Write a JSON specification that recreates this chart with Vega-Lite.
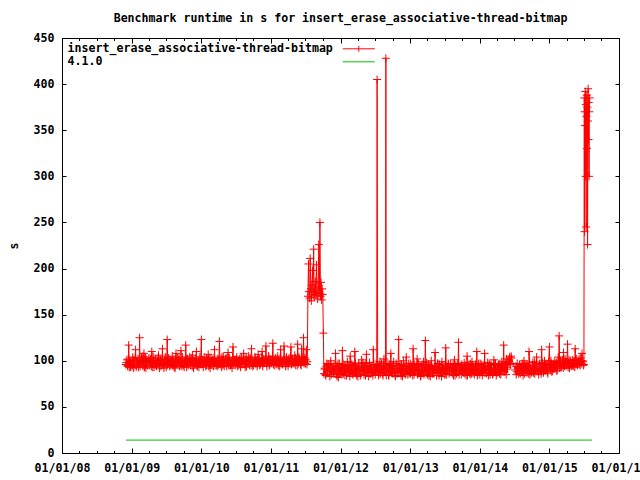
{
  "$schema": "https://vega.github.io/schema/vega-lite/v6.json",
  "width": 557,
  "height": 415,
  "autosize": {"type": "none"},
  "padding": {"left": 62, "top": 38, "right": 21, "bottom": 27},
  "background": "white",
  "config": {
    "view": {"stroke": "black", "strokeWidth": 1},
    "font": "DejaVu Sans Mono"
  },
  "title": {
    "text": "Benchmark runtime in s for insert_erase_associative-thread-bitmap",
    "font": "DejaVu Sans Mono",
    "fontWeight": "bold",
    "fontSize": 11.6,
    "color": "black",
    "anchor": "middle",
    "offset": 7
  },
  "datasets": {
    "bench": [
      {"d":"2008-12-01","v":96},{"d":"2008-12-06","v":101},{"d":"2008-12-11","v":94},{"d":"2008-12-16","v":117},{"d":"2008-12-21","v":99},{"d":"2008-12-26","v":93},
      {"d":"2009-01-01","v":97},{"d":"2009-01-06","v":104},{"d":"2009-01-11","v":92},{"d":"2009-01-16","v":99},{"d":"2009-01-21","v":112},{"d":"2009-01-26","v":95},
      {"d":"2009-02-01","v":100},{"d":"2009-02-06","v":93},{"d":"2009-02-11","v":125},{"d":"2009-02-16","v":98},{"d":"2009-02-21","v":103},{"d":"2009-02-26","v":96},
      {"d":"2009-03-01","v":94},{"d":"2009-03-06","v":108},{"d":"2009-03-11","v":99},{"d":"2009-03-16","v":92},{"d":"2009-03-21","v":101},{"d":"2009-03-26","v":97},
      {"d":"2009-04-01","v":103},{"d":"2009-04-06","v":95},{"d":"2009-04-11","v":98},{"d":"2009-04-16","v":110},{"d":"2009-04-21","v":93},{"d":"2009-04-26","v":100},
      {"d":"2009-05-01","v":96},{"d":"2009-05-06","v":102},{"d":"2009-05-11","v":94},{"d":"2009-05-16","v":99},{"d":"2009-05-21","v":106},{"d":"2009-05-26","v":92},
      {"d":"2009-06-01","v":101},{"d":"2009-06-06","v":97},{"d":"2009-06-11","v":113},{"d":"2009-06-16","v":95},{"d":"2009-06-21","v":99},{"d":"2009-06-26","v":104},
      {"d":"2009-07-01","v":93},{"d":"2009-07-06","v":123},{"d":"2009-07-11","v":98},{"d":"2009-07-16","v":101},{"d":"2009-07-21","v":95},{"d":"2009-07-26","v":100},
      {"d":"2009-08-01","v":105},{"d":"2009-08-06","v":94},{"d":"2009-08-11","v":99},{"d":"2009-08-16","v":92},{"d":"2009-08-21","v":108},{"d":"2009-08-26","v":97},
      {"d":"2009-09-01","v":99},{"d":"2009-09-06","v":103},{"d":"2009-09-11","v":95},{"d":"2009-09-16","v":111},{"d":"2009-09-21","v":94},{"d":"2009-09-26","v":101},
      {"d":"2009-10-01","v":96},{"d":"2009-10-06","v":100},{"d":"2009-10-11","v":117},{"d":"2009-10-16","v":93},{"d":"2009-10-21","v":102},{"d":"2009-10-26","v":98},
      {"d":"2009-11-01","v":104},{"d":"2009-11-06","v":95},{"d":"2009-11-11","v":99},{"d":"2009-11-16","v":106},{"d":"2009-11-21","v":92},{"d":"2009-11-26","v":100},
      {"d":"2009-12-01","v":97},{"d":"2009-12-06","v":110},{"d":"2009-12-11","v":94},{"d":"2009-12-16","v":101},{"d":"2009-12-21","v":99},{"d":"2009-12-26","v":96},
      {"d":"2010-01-01","v":123},{"d":"2010-01-06","v":98},{"d":"2010-01-11","v":93},{"d":"2010-01-16","v":104},{"d":"2010-01-21","v":100},{"d":"2010-01-26","v":95},
      {"d":"2010-02-01","v":99},{"d":"2010-02-06","v":107},{"d":"2010-02-11","v":96},{"d":"2010-02-16","v":92},{"d":"2010-02-21","v":103},{"d":"2010-02-26","v":98},
      {"d":"2010-03-01","v":101},{"d":"2010-03-06","v":94},{"d":"2010-03-11","v":112},{"d":"2010-03-16","v":99},{"d":"2010-03-21","v":95},{"d":"2010-03-26","v":102},
      {"d":"2010-04-01","v":96},{"d":"2010-04-06","v":121},{"d":"2010-04-11","v":98},{"d":"2010-04-16","v":93},{"d":"2010-04-21","v":100},{"d":"2010-04-26","v":105},
      {"d":"2010-05-01","v":94},{"d":"2010-05-06","v":99},{"d":"2010-05-11","v":103},{"d":"2010-05-16","v":97},{"d":"2010-05-21","v":109},{"d":"2010-05-26","v":95},
      {"d":"2010-06-01","v":100},{"d":"2010-06-06","v":96},{"d":"2010-06-11","v":92},{"d":"2010-06-16","v":115},{"d":"2010-06-21","v":98},{"d":"2010-06-26","v":101},
      {"d":"2010-07-01","v":97},{"d":"2010-07-06","v":104},{"d":"2010-07-11","v":99},{"d":"2010-07-16","v":95},{"d":"2010-07-21","v":102},{"d":"2010-07-26","v":93},
      {"d":"2010-08-01","v":103},{"d":"2010-08-06","v":98},{"d":"2010-08-11","v":108},{"d":"2010-08-16","v":96},{"d":"2010-08-21","v":100},{"d":"2010-08-26","v":94},
      {"d":"2010-09-01","v":99},{"d":"2010-09-06","v":105},{"d":"2010-09-11","v":95},{"d":"2010-09-16","v":101},{"d":"2010-09-21","v":113},{"d":"2010-09-26","v":97},
      {"d":"2010-10-01","v":95},{"d":"2010-10-06","v":100},{"d":"2010-10-11","v":103},{"d":"2010-10-16","v":98},{"d":"2010-10-21","v":94},{"d":"2010-10-26","v":107},
      {"d":"2010-11-01","v":102},{"d":"2010-11-06","v":96},{"d":"2010-11-11","v":99},{"d":"2010-11-16","v":110},{"d":"2010-11-21","v":97},{"d":"2010-11-26","v":101},
      {"d":"2010-12-01","v":98},{"d":"2010-12-06","v":116},{"d":"2010-12-11","v":94},{"d":"2010-12-16","v":100},{"d":"2010-12-21","v":104},{"d":"2010-12-26","v":96},
      {"d":"2011-01-01","v":101},{"d":"2011-01-06","v":97},{"d":"2011-01-11","v":119},{"d":"2011-01-16","v":99},{"d":"2011-01-21","v":95},{"d":"2011-01-26","v":103},
      {"d":"2011-02-01","v":96},{"d":"2011-02-06","v":105},{"d":"2011-02-11","v":100},{"d":"2011-02-16","v":94},{"d":"2011-02-21","v":112},{"d":"2011-02-26","v":98},
      {"d":"2011-03-01","v":100},{"d":"2011-03-06","v":97},{"d":"2011-03-11","v":116},{"d":"2011-03-16","v":102},{"d":"2011-03-21","v":96},{"d":"2011-03-26","v":99},
      {"d":"2011-04-01","v":94},{"d":"2011-04-06","v":103},{"d":"2011-04-11","v":98},{"d":"2011-04-16","v":115},{"d":"2011-04-21","v":100},{"d":"2011-04-26","v":97},
      {"d":"2011-05-01","v":99},{"d":"2011-05-06","v":106},{"d":"2011-05-11","v":95},{"d":"2011-05-16","v":101},{"d":"2011-05-21","v":118},{"d":"2011-05-26","v":97},
      {"d":"2011-06-01","v":102},{"d":"2011-06-06","v":96},{"d":"2011-06-11","v":113},{"d":"2011-06-16","v":99},{"d":"2011-06-21","v":125},{"d":"2011-06-26","v":101},
      {"d":"2011-07-01","v":97},{"d":"2011-07-06","v":112},{"d":"2011-07-11","v":99},
      {"d":"2011-07-14","v":170},{"d":"2011-07-17","v":205},{"d":"2011-07-20","v":175},{"d":"2011-07-23","v":168},{"d":"2011-07-26","v":211},{"d":"2011-07-29","v":178},
      {"d":"2011-08-01","v":165},{"d":"2011-08-04","v":182},{"d":"2011-08-07","v":198},{"d":"2011-08-10","v":172},{"d":"2011-08-13","v":221},{"d":"2011-08-16","v":169},
      {"d":"2011-08-19","v":176},{"d":"2011-08-22","v":186},{"d":"2011-08-25","v":171},{"d":"2011-08-28","v":204},{"d":"2011-08-31","v":174},{"d":"2011-09-03","v":167},
      {"d":"2011-09-06","v":180},{"d":"2011-09-09","v":226},{"d":"2011-09-12","v":173},{"d":"2011-09-15","v":250},{"d":"2011-09-18","v":170},{"d":"2011-09-21","v":185},
      {"d":"2011-09-24","v":166},{"d":"2011-09-27","v":178},{"d":"2011-09-30","v":172},{"d":"2011-10-03","v":130},
      {"d":"2011-10-06","v":86},{"d":"2011-10-11","v":92},{"d":"2011-10-16","v":84},{"d":"2011-10-21","v":97},{"d":"2011-10-26","v":89},
      {"d":"2011-11-01","v":95},{"d":"2011-11-06","v":83},{"d":"2011-11-11","v":100},{"d":"2011-11-16","v":88},{"d":"2011-11-21","v":93},{"d":"2011-11-26","v":86},
      {"d":"2011-12-01","v":91},{"d":"2011-12-06","v":108},{"d":"2011-12-11","v":85},{"d":"2011-12-16","v":94},{"d":"2011-12-21","v":82},{"d":"2011-12-26","v":97},
      {"d":"2012-01-01","v":88},{"d":"2012-01-06","v":93},{"d":"2012-01-11","v":111},{"d":"2012-01-16","v":86},{"d":"2012-01-21","v":95},{"d":"2012-01-26","v":90},
      {"d":"2012-02-01","v":84},{"d":"2012-02-06","v":99},{"d":"2012-02-11","v":89},{"d":"2012-02-16","v":92},{"d":"2012-02-21","v":105},{"d":"2012-02-26","v":87},
      {"d":"2012-03-01","v":96},{"d":"2012-03-06","v":85},{"d":"2012-03-11","v":91},{"d":"2012-03-16","v":110},{"d":"2012-03-21","v":88},{"d":"2012-03-26","v":94},
      {"d":"2012-04-01","v":83},{"d":"2012-04-06","v":97},{"d":"2012-04-11","v":90},{"d":"2012-04-16","v":86},{"d":"2012-04-21","v":101},{"d":"2012-04-26","v":92},
      {"d":"2012-05-01","v":89},{"d":"2012-05-06","v":95},{"d":"2012-05-11","v":84},{"d":"2012-05-16","v":107},{"d":"2012-05-21","v":91},{"d":"2012-05-26","v":87},
      {"d":"2012-06-01","v":98},{"d":"2012-06-06","v":86},{"d":"2012-06-11","v":93},{"d":"2012-06-16","v":88},{"d":"2012-06-21","v":112},{"d":"2012-06-26","v":90},
      {"d":"2012-07-01","v":85},{"d":"2012-07-06","v":96},{"d":"2012-07-11","v":405},{"d":"2012-07-16","v":91},{"d":"2012-07-21","v":87},{"d":"2012-07-26","v":99},
      {"d":"2012-08-01","v":89},{"d":"2012-08-06","v":94},{"d":"2012-08-11","v":84},{"d":"2012-08-16","v":102},{"d":"2012-08-21","v":90},{"d":"2012-08-26","v":428},
      {"d":"2012-09-01","v":88},{"d":"2012-09-06","v":97},{"d":"2012-09-11","v":85},{"d":"2012-09-16","v":93},{"d":"2012-09-21","v":108},{"d":"2012-09-26","v":91},
      {"d":"2012-10-01","v":86},{"d":"2012-10-06","v":99},{"d":"2012-10-11","v":90},{"d":"2012-10-16","v":84},{"d":"2012-10-21","v":95},{"d":"2012-10-26","v":88},
      {"d":"2012-11-01","v":123},{"d":"2012-11-06","v":92},{"d":"2012-11-11","v":87},{"d":"2012-11-16","v":96},{"d":"2012-11-21","v":83},{"d":"2012-11-26","v":100},
      {"d":"2012-12-01","v":90},{"d":"2012-12-06","v":85},{"d":"2012-12-11","v":104},{"d":"2012-12-16","v":89},{"d":"2012-12-21","v":94},{"d":"2012-12-26","v":86},
      {"d":"2013-01-01","v":97},{"d":"2013-01-06","v":88},{"d":"2013-01-11","v":91},{"d":"2013-01-16","v":113},{"d":"2013-01-21","v":85},{"d":"2013-01-26","v":93},
      {"d":"2013-02-01","v":89},{"d":"2013-02-06","v":102},{"d":"2013-02-11","v":86},{"d":"2013-02-16","v":95},{"d":"2013-02-21","v":90},{"d":"2013-02-26","v":84},
      {"d":"2013-03-01","v":94},{"d":"2013-03-06","v":87},{"d":"2013-03-11","v":99},{"d":"2013-03-16","v":91},{"d":"2013-03-21","v":122},{"d":"2013-03-26","v":88},
      {"d":"2013-04-01","v":85},{"d":"2013-04-06","v":96},{"d":"2013-04-11","v":90},{"d":"2013-04-16","v":83},{"d":"2013-04-21","v":100},{"d":"2013-04-26","v":92},
      {"d":"2013-05-01","v":91},{"d":"2013-05-06","v":86},{"d":"2013-05-11","v":109},{"d":"2013-05-16","v":94},{"d":"2013-05-21","v":88},{"d":"2013-05-26","v":97},
      {"d":"2013-06-01","v":84},{"d":"2013-06-06","v":93},{"d":"2013-06-11","v":89},{"d":"2013-06-16","v":99},{"d":"2013-06-21","v":87},{"d":"2013-06-26","v":95},
      {"d":"2013-07-01","v":90},{"d":"2013-07-06","v":114},{"d":"2013-07-11","v":85},{"d":"2013-07-16","v":92},{"d":"2013-07-21","v":96},{"d":"2013-07-26","v":88},
      {"d":"2013-08-01","v":97},{"d":"2013-08-06","v":89},{"d":"2013-08-11","v":93},{"d":"2013-08-16","v":84},{"d":"2013-08-21","v":101},{"d":"2013-08-26","v":90},
      {"d":"2013-09-01","v":86},{"d":"2013-09-06","v":95},{"d":"2013-09-11","v":120},{"d":"2013-09-16","v":88},{"d":"2013-09-21","v":92},{"d":"2013-09-26","v":85},
      {"d":"2013-10-01","v":93},{"d":"2013-10-06","v":87},{"d":"2013-10-11","v":98},{"d":"2013-10-16","v":90},{"d":"2013-10-21","v":84},{"d":"2013-10-26","v":105},
      {"d":"2013-11-01","v":89},{"d":"2013-11-06","v":96},{"d":"2013-11-11","v":85},{"d":"2013-11-16","v":92},{"d":"2013-11-21","v":99},{"d":"2013-11-26","v":87},
      {"d":"2013-12-01","v":94},{"d":"2013-12-06","v":88},{"d":"2013-12-11","v":91},{"d":"2013-12-16","v":110},{"d":"2013-12-21","v":86},{"d":"2013-12-26","v":97},
      {"d":"2014-01-01","v":85},{"d":"2014-01-06","v":92},{"d":"2014-01-11","v":96},{"d":"2014-01-16","v":89},{"d":"2014-01-21","v":93},{"d":"2014-01-26","v":108},
      {"d":"2014-02-01","v":91},{"d":"2014-02-06","v":87},{"d":"2014-02-11","v":98},{"d":"2014-02-16","v":84},{"d":"2014-02-21","v":95},{"d":"2014-02-26","v":90},
      {"d":"2014-03-01","v":96},{"d":"2014-03-06","v":89},{"d":"2014-03-11","v":86},{"d":"2014-03-16","v":101},{"d":"2014-03-21","v":92},{"d":"2014-03-26","v":88},
      {"d":"2014-04-01","v":87},{"d":"2014-04-06","v":94},{"d":"2014-04-11","v":90},{"d":"2014-04-16","v":97},{"d":"2014-04-21","v":85},{"d":"2014-04-26","v":99},
      {"d":"2014-05-01","v":93},{"d":"2014-05-06","v":117},{"d":"2014-05-11","v":88},{"d":"2014-05-16","v":95},{"d":"2014-05-21","v":102},{"d":"2014-05-26","v":91},
      {"d":"2014-06-01","v":99},{"d":"2014-06-06","v":104},{"d":"2014-06-11","v":96},{"d":"2014-06-16","v":103},
      {"d":"2014-07-06","v":90},{"d":"2014-07-11","v":85},{"d":"2014-07-16","v":97},{"d":"2014-07-21","v":88},{"d":"2014-07-26","v":93},
      {"d":"2014-08-01","v":86},{"d":"2014-08-06","v":95},{"d":"2014-08-11","v":89},{"d":"2014-08-16","v":84},{"d":"2014-08-21","v":100},{"d":"2014-08-26","v":91},
      {"d":"2014-09-01","v":96},{"d":"2014-09-06","v":87},{"d":"2014-09-11","v":93},{"d":"2014-09-16","v":110},{"d":"2014-09-21","v":85},{"d":"2014-09-26","v":90},
      {"d":"2014-10-01","v":88},{"d":"2014-10-06","v":98},{"d":"2014-10-11","v":92},{"d":"2014-10-16","v":86},{"d":"2014-10-21","v":94},{"d":"2014-10-26","v":104},
      {"d":"2014-11-01","v":91},{"d":"2014-11-06","v":85},{"d":"2014-11-11","v":97},{"d":"2014-11-16","v":89},{"d":"2014-11-21","v":112},{"d":"2014-11-26","v":93},
      {"d":"2014-12-01","v":87},{"d":"2014-12-06","v":100},{"d":"2014-12-11","v":90},{"d":"2014-12-16","v":95},{"d":"2014-12-21","v":88},{"d":"2014-12-26","v":96},
      {"d":"2015-01-01","v":115},{"d":"2015-01-06","v":91},{"d":"2015-01-11","v":97},{"d":"2015-01-16","v":89},{"d":"2015-01-21","v":94},{"d":"2015-01-26","v":99},
      {"d":"2015-02-01","v":92},{"d":"2015-02-06","v":98},{"d":"2015-02-11","v":90},{"d":"2015-02-16","v":104},{"d":"2015-02-21","v":127},{"d":"2015-02-26","v":95},
      {"d":"2015-03-01","v":97},{"d":"2015-03-06","v":93},{"d":"2015-03-11","v":101},{"d":"2015-03-16","v":109},{"d":"2015-03-21","v":94},{"d":"2015-03-26","v":99},
      {"d":"2015-04-01","v":95},{"d":"2015-04-06","v":118},{"d":"2015-04-11","v":96},{"d":"2015-04-16","v":92},{"d":"2015-04-21","v":100},{"d":"2015-04-26","v":97},
      {"d":"2015-05-01","v":101},{"d":"2015-05-06","v":94},{"d":"2015-05-11","v":99},{"d":"2015-05-16","v":113},{"d":"2015-05-21","v":96},{"d":"2015-05-26","v":98},
      {"d":"2015-06-01","v":97},{"d":"2015-06-06","v":102},{"d":"2015-06-11","v":95},{"d":"2015-06-16","v":100},{"d":"2015-06-21","v":108},{"d":"2015-06-26","v":99},
      {"d":"2015-07-01","v":96},
      {"d":"2015-07-03","v":385},{"d":"2015-07-04","v":240},{"d":"2015-07-05","v":370},{"d":"2015-07-07","v":355},{"d":"2015-07-08","v":392},{"d":"2015-07-10","v":300},
      {"d":"2015-07-11","v":378},{"d":"2015-07-13","v":245},{"d":"2015-07-14","v":365},{"d":"2015-07-16","v":388},{"d":"2015-07-17","v":330},{"d":"2015-07-19","v":375},
      {"d":"2015-07-20","v":226},{"d":"2015-07-22","v":360},{"d":"2015-07-23","v":395},{"d":"2015-07-25","v":340},{"d":"2015-07-26","v":380},{"d":"2015-07-28","v":300},
      {"d":"2015-07-29","v":370},{"d":"2015-07-31","v":385},
      {"d":"2008-12-03","v":98},{"d":"2008-12-09","v":95},{"d":"2008-12-14","v":102},{"d":"2008-12-19","v":93},{"d":"2008-12-24","v":100},{"d":"2008-12-28","v":97},
      {"d":"2009-01-03","v":94},{"d":"2009-01-09","v":101},{"d":"2009-01-14","v":97},{"d":"2009-01-19","v":103},{"d":"2009-01-24","v":93},{"d":"2009-01-28","v":99},
      {"d":"2009-02-03","v":102},{"d":"2009-02-09","v":96},{"d":"2009-02-14","v":94},{"d":"2009-02-19","v":100},{"d":"2009-02-24","v":98},{"d":"2009-02-28","v":105},
      {"d":"2009-03-03","v":97},{"d":"2009-03-09","v":93},{"d":"2009-03-14","v":103},{"d":"2009-03-19","v":99},{"d":"2009-03-24","v":95},{"d":"2009-03-28","v":101},
      {"d":"2009-04-03","v":99},{"d":"2009-04-09","v":102},{"d":"2009-04-14","v":94},{"d":"2009-04-19","v":97},{"d":"2009-04-24","v":104},{"d":"2009-04-28","v":93},
      {"d":"2009-05-03","v":100},{"d":"2009-05-09","v":95},{"d":"2009-05-14","v":98},{"d":"2009-05-19","v":103},{"d":"2009-05-24","v":96},{"d":"2009-05-28","v":101},
      {"d":"2009-06-03","v":94},{"d":"2009-06-09","v":100},{"d":"2009-06-14","v":97},{"d":"2009-06-19","v":92},{"d":"2009-06-24","v":102},{"d":"2009-06-28","v":98},
      {"d":"2009-07-03","v":99},{"d":"2009-07-09","v":96},{"d":"2009-07-14","v":103},{"d":"2009-07-19","v":94},{"d":"2009-07-24","v":100},{"d":"2009-07-28","v":97},
      {"d":"2009-08-03","v":96},{"d":"2009-08-09","v":101},{"d":"2009-08-14","v":93},{"d":"2009-08-19","v":99},{"d":"2009-08-24","v":97},{"d":"2009-08-28","v":103},
      {"d":"2009-09-03","v":101},{"d":"2009-09-09","v":94},{"d":"2009-09-14","v":98},{"d":"2009-09-19","v":96},{"d":"2009-09-24","v":104},{"d":"2009-09-28","v":95},
      {"d":"2009-10-03","v":93},{"d":"2009-10-09","v":99},{"d":"2009-10-14","v":102},{"d":"2009-10-19","v":97},{"d":"2009-10-24","v":95},{"d":"2009-10-28","v":100},
      {"d":"2009-11-03","v":98},{"d":"2009-11-09","v":103},{"d":"2009-11-14","v":94},{"d":"2009-11-19","v":100},{"d":"2009-11-24","v":96},{"d":"2009-11-28","v":99},
      {"d":"2009-12-03","v":102},{"d":"2009-12-09","v":95},{"d":"2009-12-14","v":99},{"d":"2009-12-19","v":93},{"d":"2009-12-24","v":104},{"d":"2009-12-28","v":98},
      {"d":"2010-01-03","v":96},{"d":"2010-01-09","v":101},{"d":"2010-01-14","v":97},{"d":"2010-01-19","v":99},{"d":"2010-01-24","v":94},{"d":"2010-01-28","v":103},
      {"d":"2010-02-03","v":100},{"d":"2010-02-09","v":94},{"d":"2010-02-14","v":102},{"d":"2010-02-19","v":98},{"d":"2010-02-24","v":96},{"d":"2010-02-28","v":101},
      {"d":"2010-03-03","v":97},{"d":"2010-03-09","v":103},{"d":"2010-03-14","v":95},{"d":"2010-03-19","v":100},{"d":"2010-03-24","v":98},{"d":"2010-03-28","v":94},
      {"d":"2010-04-03","v":101},{"d":"2010-04-09","v":96},{"d":"2010-04-14","v":99},{"d":"2010-04-19","v":104},{"d":"2010-04-24","v":95},{"d":"2010-04-28","v":98},
      {"d":"2010-05-03","v":98},{"d":"2010-05-09","v":102},{"d":"2010-05-14","v":94},{"d":"2010-05-19","v":100},{"d":"2010-05-24","v":97},{"d":"2010-05-28","v":103},
      {"d":"2010-06-03","v":95},{"d":"2010-06-09","v":99},{"d":"2010-06-14","v":104},{"d":"2010-06-19","v":97},{"d":"2010-06-24","v":101},{"d":"2010-06-28","v":96},
      {"d":"2010-07-03","v":102},{"d":"2010-07-09","v":94},{"d":"2010-07-14","v":100},{"d":"2010-07-19","v":98},{"d":"2010-07-24","v":96},{"d":"2010-07-28","v":103},
      {"d":"2010-08-03","v":96},{"d":"2010-08-09","v":101},{"d":"2010-08-14","v":97},{"d":"2010-08-19","v":93},{"d":"2010-08-24","v":104},{"d":"2010-08-28","v":99},
      {"d":"2010-09-03","v":100},{"d":"2010-09-09","v":97},{"d":"2010-09-14","v":103},{"d":"2010-09-19","v":95},{"d":"2010-09-24","v":99},{"d":"2010-09-28","v":94},
      {"d":"2010-10-03","v":98},{"d":"2010-10-09","v":104},{"d":"2010-10-14","v":96},{"d":"2010-10-19","v":101},{"d":"2010-10-24","v":97},{"d":"2010-10-28","v":100},
      {"d":"2010-11-03","v":95},{"d":"2010-11-09","v":100},{"d":"2010-11-14","v":103},{"d":"2010-11-19","v":94},{"d":"2010-11-24","v":102},{"d":"2010-11-28","v":98},
      {"d":"2010-12-03","v":101},{"d":"2010-12-09","v":97},{"d":"2010-12-14","v":99},{"d":"2010-12-19","v":105},{"d":"2010-12-24","v":95},{"d":"2010-12-28","v":102},
      {"d":"2011-01-03","v":98},{"d":"2011-01-09","v":104},{"d":"2011-01-14","v":96},{"d":"2011-01-19","v":101},{"d":"2011-01-24","v":99},{"d":"2011-01-28","v":97},
      {"d":"2011-02-03","v":102},{"d":"2011-02-09","v":95},{"d":"2011-02-14","v":99},{"d":"2011-02-19","v":103},{"d":"2011-02-24","v":97},{"d":"2011-02-28","v":100},
      {"d":"2011-03-03","v":96},{"d":"2011-03-09","v":101},{"d":"2011-03-14","v":98},{"d":"2011-03-19","v":94},{"d":"2011-03-24","v":104},{"d":"2011-03-28","v":99},
      {"d":"2011-04-03","v":100},{"d":"2011-04-09","v":97},{"d":"2011-04-14","v":105},{"d":"2011-04-19","v":96},{"d":"2011-04-24","v":102},{"d":"2011-04-28","v":98},
      {"d":"2011-05-03","v":97},{"d":"2011-05-09","v":103},{"d":"2011-05-14","v":99},{"d":"2011-05-19","v":95},{"d":"2011-05-24","v":101},{"d":"2011-05-28","v":104},
      {"d":"2011-06-03","v":99},{"d":"2011-06-09","v":95},{"d":"2011-06-14","v":104},{"d":"2011-06-19","v":100},{"d":"2011-06-24","v":97},{"d":"2011-06-28","v":103},
      {"d":"2011-07-03","v":101},{"d":"2011-07-09","v":96},
      {"d":"2011-10-09","v":91},{"d":"2011-10-14","v":85},{"d":"2011-10-19","v":94},{"d":"2011-10-24","v":88},{"d":"2011-10-28","v":96},
      {"d":"2011-11-03","v":90},{"d":"2011-11-09","v":97},{"d":"2011-11-14","v":85},{"d":"2011-11-19","v":92},{"d":"2011-11-24","v":87},{"d":"2011-11-28","v":95},
      {"d":"2011-12-03","v":88},{"d":"2011-12-09","v":94},{"d":"2011-12-14","v":83},{"d":"2011-12-19","v":97},{"d":"2011-12-24","v":90},{"d":"2011-12-28","v":86},
      {"d":"2012-01-03","v":92},{"d":"2012-01-09","v":85},{"d":"2012-01-14","v":96},{"d":"2012-01-19","v":89},{"d":"2012-01-24","v":84},{"d":"2012-01-28","v":94},
      {"d":"2012-02-03","v":91},{"d":"2012-02-09","v":87},{"d":"2012-02-14","v":95},{"d":"2012-02-19","v":83},{"d":"2012-02-24","v":98},{"d":"2012-02-28","v":89},
      {"d":"2012-03-03","v":86},{"d":"2012-03-09","v":93},{"d":"2012-03-14","v":89},{"d":"2012-03-19","v":97},{"d":"2012-03-24","v":84},{"d":"2012-03-28","v":92},
      {"d":"2012-04-03","v":95},{"d":"2012-04-09","v":88},{"d":"2012-04-14","v":84},{"d":"2012-04-19","v":93},{"d":"2012-04-24","v":90},{"d":"2012-04-28","v":98},
      {"d":"2012-05-03","v":85},{"d":"2012-05-09","v":92},{"d":"2012-05-14","v":97},{"d":"2012-05-19","v":88},{"d":"2012-05-24","v":94},{"d":"2012-05-28","v":83},
      {"d":"2012-06-03","v":91},{"d":"2012-06-09","v":95},{"d":"2012-06-14","v":87},{"d":"2012-06-19","v":84},{"d":"2012-06-24","v":96},{"d":"2012-06-28","v":89},
      {"d":"2012-07-03","v":93},{"d":"2012-07-09","v":88},{"d":"2012-07-14","v":95},{"d":"2012-07-19","v":84},{"d":"2012-07-24","v":92},{"d":"2012-07-28","v":86},
      {"d":"2012-08-03","v":97},{"d":"2012-08-09","v":86},{"d":"2012-08-14","v":92},{"d":"2012-08-19","v":88},{"d":"2012-08-24","v":95},{"d":"2012-08-28","v":84},
      {"d":"2012-09-03","v":92},{"d":"2012-09-09","v":84},{"d":"2012-09-14","v":96},{"d":"2012-09-19","v":89},{"d":"2012-09-24","v":87},{"d":"2012-09-28","v":94},
      {"d":"2012-10-03","v":95},{"d":"2012-10-09","v":88},{"d":"2012-10-14","v":83},{"d":"2012-10-19","v":97},{"d":"2012-10-24","v":91},{"d":"2012-10-28","v":86},
      {"d":"2012-11-03","v":89},{"d":"2012-11-09","v":96},{"d":"2012-11-14","v":84},{"d":"2012-11-19","v":92},{"d":"2012-11-24","v":88},{"d":"2012-11-28","v":95},
      {"d":"2012-12-03","v":94},{"d":"2012-12-09","v":87},{"d":"2012-12-14","v":92},{"d":"2012-12-19","v":85},{"d":"2012-12-24","v":97},{"d":"2012-12-28","v":90},
      {"d":"2013-01-03","v":86},{"d":"2013-01-09","v":95},{"d":"2013-01-14","v":84},{"d":"2013-01-19","v":90},{"d":"2013-01-24","v":96},{"d":"2013-01-28","v":89},
      {"d":"2013-02-03","v":93},{"d":"2013-02-09","v":85},{"d":"2013-02-14","v":97},{"d":"2013-02-19","v":88},{"d":"2013-02-24","v":83},{"d":"2013-02-28","v":94},
      {"d":"2013-03-03","v":90},{"d":"2013-03-09","v":96},{"d":"2013-03-14","v":85},{"d":"2013-03-19","v":93},{"d":"2013-03-24","v":87},{"d":"2013-03-28","v":98},
      {"d":"2013-04-03","v":92},{"d":"2013-04-09","v":84},{"d":"2013-04-14","v":95},{"d":"2013-04-19","v":89},{"d":"2013-04-24","v":94},{"d":"2013-04-28","v":86},
      {"d":"2013-05-03","v":87},{"d":"2013-05-09","v":93},{"d":"2013-05-14","v":90},{"d":"2013-05-19","v":84},{"d":"2013-05-24","v":97},{"d":"2013-05-28","v":91},
      {"d":"2013-06-03","v":96},{"d":"2013-06-09","v":88},{"d":"2013-06-14","v":83},{"d":"2013-06-19","v":92},{"d":"2013-06-24","v":90},{"d":"2013-06-28","v":85},
      {"d":"2013-07-03","v":85},{"d":"2013-07-09","v":94},{"d":"2013-07-14","v":90},{"d":"2013-07-19","v":97},{"d":"2013-07-24","v":86},{"d":"2013-07-28","v":93},
      {"d":"2013-08-03","v":92},{"d":"2013-08-09","v":86},{"d":"2013-08-14","v":96},{"d":"2013-08-19","v":88},{"d":"2013-08-24","v":84},{"d":"2013-08-28","v":95},
      {"d":"2013-09-03","v":90},{"d":"2013-09-09","v":97},{"d":"2013-09-14","v":85},{"d":"2013-09-19","v":93},{"d":"2013-09-24","v":89},{"d":"2013-09-28","v":96},
      {"d":"2013-10-03","v":88},{"d":"2013-10-09","v":92},{"d":"2013-10-14","v":86},{"d":"2013-10-19","v":95},{"d":"2013-10-24","v":91},{"d":"2013-10-28","v":84},
      {"d":"2013-11-03","v":94},{"d":"2013-11-09","v":87},{"d":"2013-11-14","v":97},{"d":"2013-11-19","v":86},{"d":"2013-11-24","v":90},{"d":"2013-11-28","v":93},
      {"d":"2013-12-03","v":85},{"d":"2013-12-09","v":96},{"d":"2013-12-14","v":89},{"d":"2013-12-19","v":84},{"d":"2013-12-24","v":95},{"d":"2013-12-28","v":90},
      {"d":"2014-01-03","v":97},{"d":"2014-01-09","v":88},{"d":"2014-01-14","v":84},{"d":"2014-01-19","v":95},{"d":"2014-01-24","v":87},{"d":"2014-01-28","v":92},
      {"d":"2014-02-03","v":86},{"d":"2014-02-09","v":94},{"d":"2014-02-14","v":90},{"d":"2014-02-19","v":97},{"d":"2014-02-24","v":85},{"d":"2014-02-28","v":93},
      {"d":"2014-03-03","v":91},{"d":"2014-03-09","v":85},{"d":"2014-03-14","v":95},{"d":"2014-03-19","v":88},{"d":"2014-03-24","v":97},{"d":"2014-03-28","v":84},
      {"d":"2014-04-03","v":93},{"d":"2014-04-09","v":96},{"d":"2014-04-14","v":86},{"d":"2014-04-19","v":92},{"d":"2014-04-24","v":89},{"d":"2014-04-28","v":95},
      {"d":"2014-05-03","v":88},{"d":"2014-05-09","v":90},{"d":"2014-05-14","v":97},{"d":"2014-05-19","v":85},{"d":"2014-05-24","v":93},{"d":"2014-05-28","v":98},
      {"d":"2014-06-03","v":101},{"d":"2014-06-09","v":97},{"d":"2014-06-14","v":105},
      {"d":"2014-07-09","v":94},{"d":"2014-07-14","v":88},{"d":"2014-07-19","v":92},{"d":"2014-07-24","v":86},{"d":"2014-07-28","v":96},
      {"d":"2014-08-03","v":92},{"d":"2014-08-09","v":88},{"d":"2014-08-14","v":97},{"d":"2014-08-19","v":90},{"d":"2014-08-24","v":86},{"d":"2014-08-28","v":94},
      {"d":"2014-09-03","v":89},{"d":"2014-09-09","v":95},{"d":"2014-09-14","v":86},{"d":"2014-09-19","v":98},{"d":"2014-09-24","v":92},{"d":"2014-09-28","v":87},
      {"d":"2014-10-03","v":95},{"d":"2014-10-09","v":87},{"d":"2014-10-14","v":99},{"d":"2014-10-19","v":90},{"d":"2014-10-24","v":97},{"d":"2014-10-28","v":89},
      {"d":"2014-11-03","v":88},{"d":"2014-11-09","v":96},{"d":"2014-11-14","v":91},{"d":"2014-11-19","v":86},{"d":"2014-11-24","v":98},{"d":"2014-11-28","v":92},
      {"d":"2014-12-03","v":94},{"d":"2014-12-09","v":89},{"d":"2014-12-14","v":97},{"d":"2014-12-19","v":91},{"d":"2014-12-24","v":86},{"d":"2014-12-28","v":99},
      {"d":"2015-01-03","v":93},{"d":"2015-01-09","v":100},{"d":"2015-01-14","v":88},{"d":"2015-01-19","v":96},{"d":"2015-01-24","v":91},{"d":"2015-01-28","v":95},
      {"d":"2015-02-03","v":97},{"d":"2015-02-09","v":89},{"d":"2015-02-14","v":95},{"d":"2015-02-19","v":99},{"d":"2015-02-24","v":92},{"d":"2015-02-28","v":100},
      {"d":"2015-03-03","v":94},{"d":"2015-03-09","v":99},{"d":"2015-03-14","v":92},{"d":"2015-03-19","v":97},{"d":"2015-03-24","v":102},{"d":"2015-03-28","v":95},
      {"d":"2015-04-03","v":99},{"d":"2015-04-09","v":93},{"d":"2015-04-14","v":101},{"d":"2015-04-19","v":95},{"d":"2015-04-24","v":98},{"d":"2015-04-28","v":94},
      {"d":"2015-05-03","v":96},{"d":"2015-05-09","v":100},{"d":"2015-05-14","v":93},{"d":"2015-05-19","v":98},{"d":"2015-05-24","v":102},{"d":"2015-05-28","v":95},
      {"d":"2015-06-03","v":99},{"d":"2015-06-09","v":96},{"d":"2015-06-14","v":103},{"d":"2015-06-19","v":97},{"d":"2015-06-24","v":100},{"d":"2015-06-28","v":95}
    ],
    "ref": [
      {"d":"2008-12-02","v":14},{"d":"2015-08-12","v":14}
    ]
  },
  "layer": [
    {
      "data": {"name": "bench"},
      "mark": {"type": "line", "strokeWidth": 1},
      "encoding": {
        "x": {
          "field": "d", "type": "temporal",
          "scale": {"type": "utc", "domain": [{"year": 2008, "month": 1, "date": 1, "utc": true}, {"year": 2016, "month": 1, "date": 1, "utc": true}]},
          "axis": {
            "orient": "bottom", "title": null, "grid": false, "domain": false,
            "tickCount": {"interval": "month", "step": 3},
            "format": "%m/%d/%y",
            "labelExpr": "utcmonth(datum.value) === 0 ? datum.label : ''",
            "tickSize": {"condition": {"test": "utcmonth(datum.value) === 0", "value": -5}, "value": -2.5},
            "tickColor": "black", "tickWidth": 1,
            "labelFont": "DejaVu Sans Mono", "labelFontWeight": "bold", "labelFontSize": 11.6, "labelColor": "black",
            "labelPadding": 14, "labelOverlap": false, "labelFlush": false, "labelBound": false
          }
        },
        "y": {
          "field": "v", "type": "quantitative",
          "scale": {"domain": [0, 450], "nice": false, "zero": false},
          "axis": {
            "orient": "left", "title": "s", "grid": false, "domain": false,
            "values": [0, 50, 100, 150, 200, 250, 300, 350, 400, 450],
            "tickSize": -4, "tickColor": "black", "tickWidth": 1,
            "labelFont": "DejaVu Sans Mono", "labelFontWeight": "bold", "labelFontSize": 11.6, "labelColor": "black",
            "labelPadding": 12,
            "titleFont": "DejaVu Sans Mono", "titleFontWeight": "bold", "titleFontSize": 11.6, "titleColor": "black",
            "titlePadding": 14
          }
        },
        "color": {
          "datum": "insert_erase_associative-thread-bitmap",
          "scale": {"domain": ["insert_erase_associative-thread-bitmap", "4.1.0"], "range": ["#ff0000", "#00c000"]},
          "legend": {
            "title": null, "orient": "none", "legendX": 291, "legendY": 5,
            "symbolType": "M-4,0H4M0,-0.75V0.75", "symbolSize": 64, "symbolStrokeWidth": 1,
            "labelFont": "DejaVu Sans Mono", "labelFontWeight": "bold", "labelFontSize": 11.6, "labelColor": "black",
            "labelAlign": "left", "labelOffset": -297, "rowPadding": 0, "padding": 0, "labelLimit": 400,
            "encode": {"symbols": {"update": {"shape": {"signal": "datum.value === '4.1.0' ? 'M-4,0H4' : 'M-4,0H4M0,-0.75V0.75'"}}}}
          }
        }
      }
    },
    {
      "data": {"name": "bench"},
      "mark": {"type": "point", "shape": "M-1,0H1M0,-1V1", "size": 64, "filled": false, "strokeWidth": 1, "color": "#ff0000", "opacity": 1},
      "encoding": {
        "x": {"field": "d", "type": "temporal", "axis": null},
        "y": {"field": "v", "type": "quantitative", "axis": null}
      }
    },
    {
      "data": {"name": "ref"},
      "mark": {"type": "line", "strokeWidth": 1},
      "encoding": {
        "x": {
          "field": "d", "type": "temporal",
          "axis": {
            "orient": "top", "title": null, "grid": false, "domain": false, "labels": false,
            "tickCount": {"interval": "month", "step": 3},
            "tickSize": {"condition": {"test": "utcmonth(datum.value) === 0", "value": -5}, "value": -2.5},
            "tickColor": "black", "tickWidth": 1
          }
        },
        "y": {
          "field": "v", "type": "quantitative",
          "axis": {
            "orient": "right", "title": null, "grid": false, "domain": false, "labels": false,
            "values": [0, 50, 100, 150, 200, 250, 300, 350, 400, 450],
            "tickSize": -4, "tickColor": "black", "tickWidth": 1
          }
        },
        "color": {"datum": "4.1.0"}
      }
    }
  ],
  "resolve": {"axis": {"x": "independent", "y": "independent"}}
}
